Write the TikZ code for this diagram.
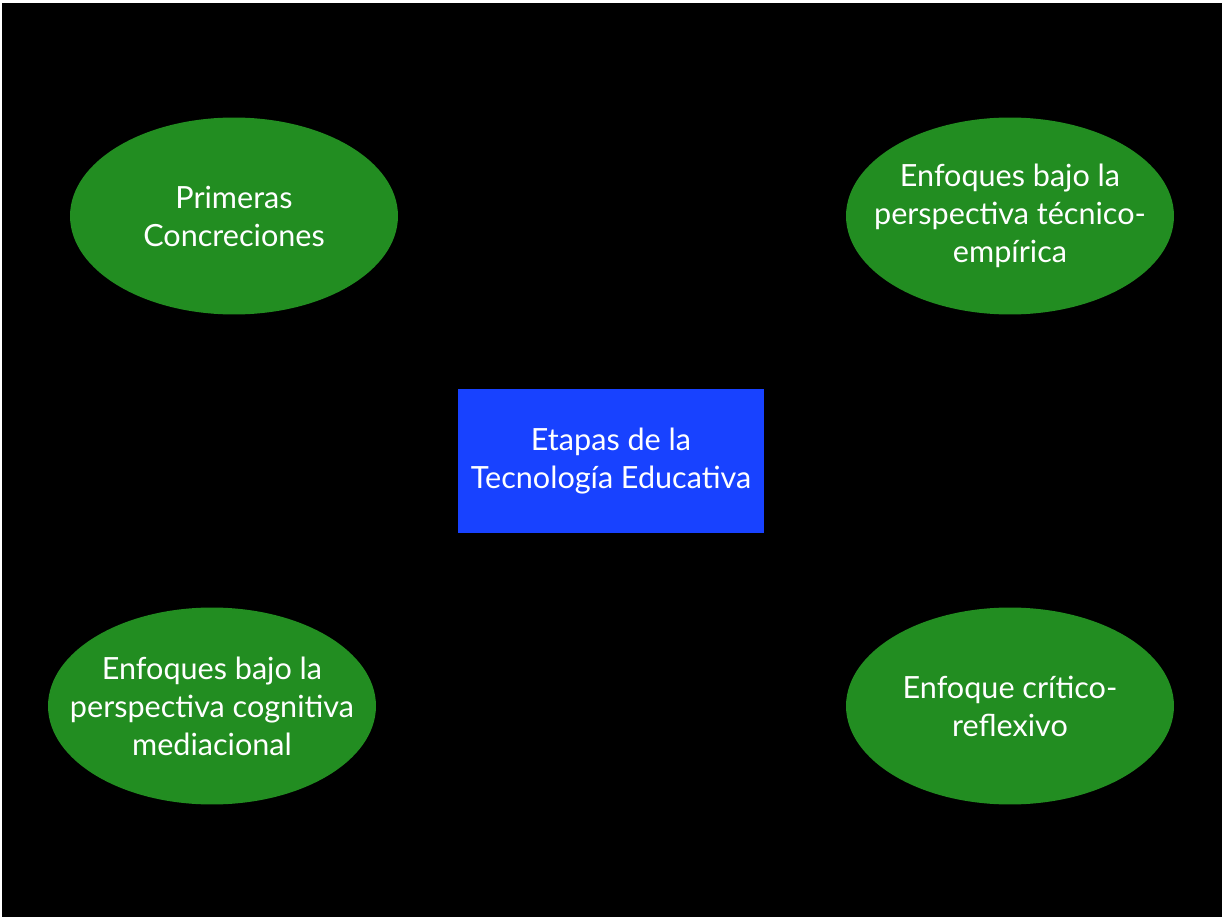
\documentclass[tikz,border=0pt]{standalone}
\usepackage{fontspec}
\setmainfont{Lato}
\usetikzlibrary{shapes.geometric}
\definecolor{etapagreen}{RGB}{34,141,33}
\definecolor{etapablue}{RGB}{24,66,255}
\begin{document}
\begin{tikzpicture}[
		x=0.02cm, y=-0.02cm,
		every node/.style={text=white, align=center, inner sep=0pt,
			font=\fontsize{17.4}{21.6}\selectfont},
		etapa/.style={ellipse, fill=etapagreen, inner xsep=-0.9cm,
			minimum width=6.56cm, minimum height=3.94cm},
		centro/.style={rectangle, fill=etapablue, minimum width=6.12cm, minimum height=2.88cm}
	]
  \useasboundingbox (0,0) rectangle (1225,919);
  \fill[black] (2,3) rectangle (1222,917);
  \node (centro) [centro] at (611,461) {Etapas de la\\Tecnología Educativa};
  \node (primeras) [etapa] at (234,216) {Primeras\\Concreciones};
  \node (tecnico) [etapa] at (1010,216) {Enfoques bajo la\\perspectiva técnico-\\empírica};
  \node (cognitiva) [etapa] at (212,706) {Enfoques bajo la\\perspectiva cognitiva\\mediacional};
  \node (critico) [etapa] at (1010,706) {Enfoque crítico-\\reflexivo};
\end{tikzpicture}
\end{document}
